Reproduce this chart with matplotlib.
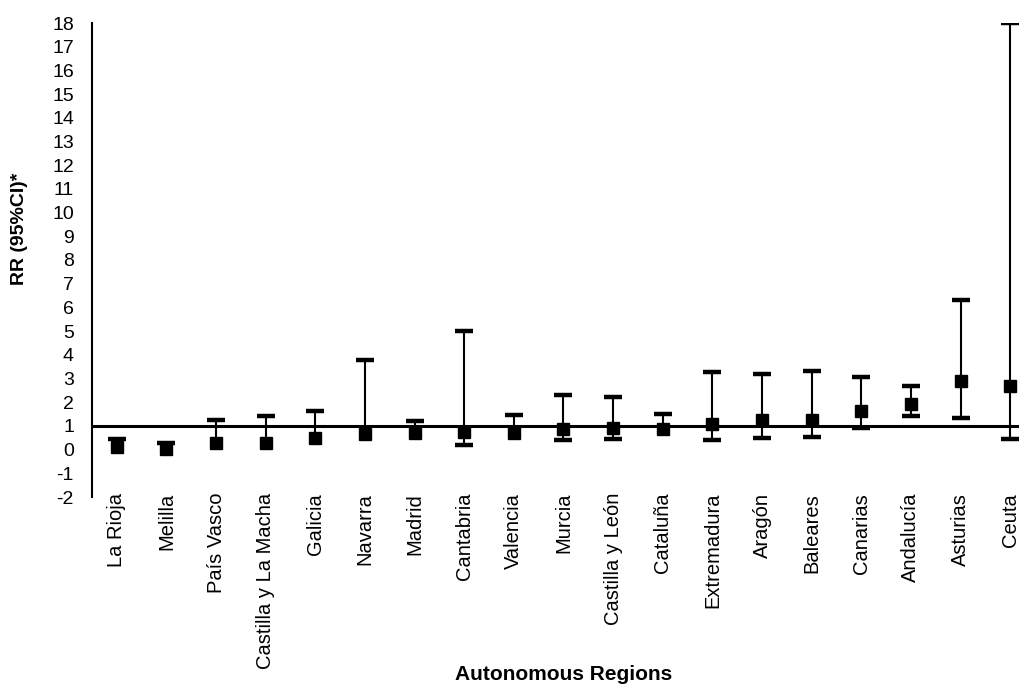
import numpy as np
import matplotlib.pyplot as plt

plt.rcParams['font.family'] = ['Liberation Sans', 'DejaVu Sans']

regions = ["La Rioja", "Melilla", "País Vasco", "Castilla y La Macha", "Galicia",
           "Navarra", "Madrid", "Cantabria", "Valencia", "Murcia", "Castilla y León",
           "Cataluña", "Extremadura", "Aragón", "Baleares", "Canarias", "Andalucía",
           "Asturias", "Ceuta"]
rr = [0.11, 0.04, 0.26, 0.27, 0.50, 0.65, 0.69, 0.75, 0.68, 0.86, 0.90,
      0.87, 1.09, 1.23, 1.27, 1.62, 1.92, 2.89, 2.68]
# lower limits hidden behind the marker in the original are left as None
lower = [None, None, None, None, None, None, None, 0.20, None, 0.41, 0.45,
         None, 0.41, 0.51, 0.52, 0.90, 1.42, 1.32, 0.45]
upper = [0.44, 0.27, 1.25, 1.41, 1.63, 3.77, 1.21, 5.01, 1.44, 2.30, 2.21,
         1.50, 3.26, 3.19, 3.33, 3.08, 2.68, 6.33, 18.0]
yticks = list(range(-2, 19))

x = np.arange(len(regions))
low_line = [l if l is not None else r for l, r in zip(lower, rr)]

fig = plt.figure(figsize=(10.2, 6.88), dpi=100)
ax = fig.add_axes([92 / 1020, 1 - 497 / 688, 943 / 1020, 474 / 688])

ax.axhline(1, color='black', lw=2.2, zorder=1)

# whiskers, caps, then the point estimates on top
ax.vlines(x, low_line, upper, color='black', lw=1.5, zorder=2)
ax.plot(x, upper, '_', color='black', ms=12.5, mew=3.2, zorder=2)
lx = [xi for xi, l in zip(x, lower) if l is not None]
ly = [l for l in lower if l is not None]
ax.plot(lx, ly, '_', color='black', ms=12.5, mew=3.2, zorder=2)
ax.plot(x, rr, 's', color='black', ms=9.2, zorder=3)

ax.set_xlim(-0.5, 18.5)
ax.set_ylim(-2, 18)
ax.set_yticks(yticks)
ax.set_yticklabels([str(t) for t in yticks], fontsize=14)
ax.set_xticks(x)
ax.set_xticklabels(regions, rotation=90, fontsize=14.5)
ax.tick_params(axis='y', length=0, pad=13)
ax.tick_params(axis='x', length=0, pad=-3)

for s in ['top', 'right', 'bottom']:
    ax.spines[s].set_visible(False)
ax.spines['left'].set_linewidth(1.5)

ax.set_xlabel("Autonomous Regions", fontsize=15, fontweight='bold')
ax.xaxis.set_label_coords(0.5, -0.355)
fig.text(20 / 1020, 1 - 229 / 688, "RR (95%CI)*", rotation=90, fontsize=14,
         fontweight='bold', ha='center', va='center')

fig.savefig("out.png", dpi=100)
